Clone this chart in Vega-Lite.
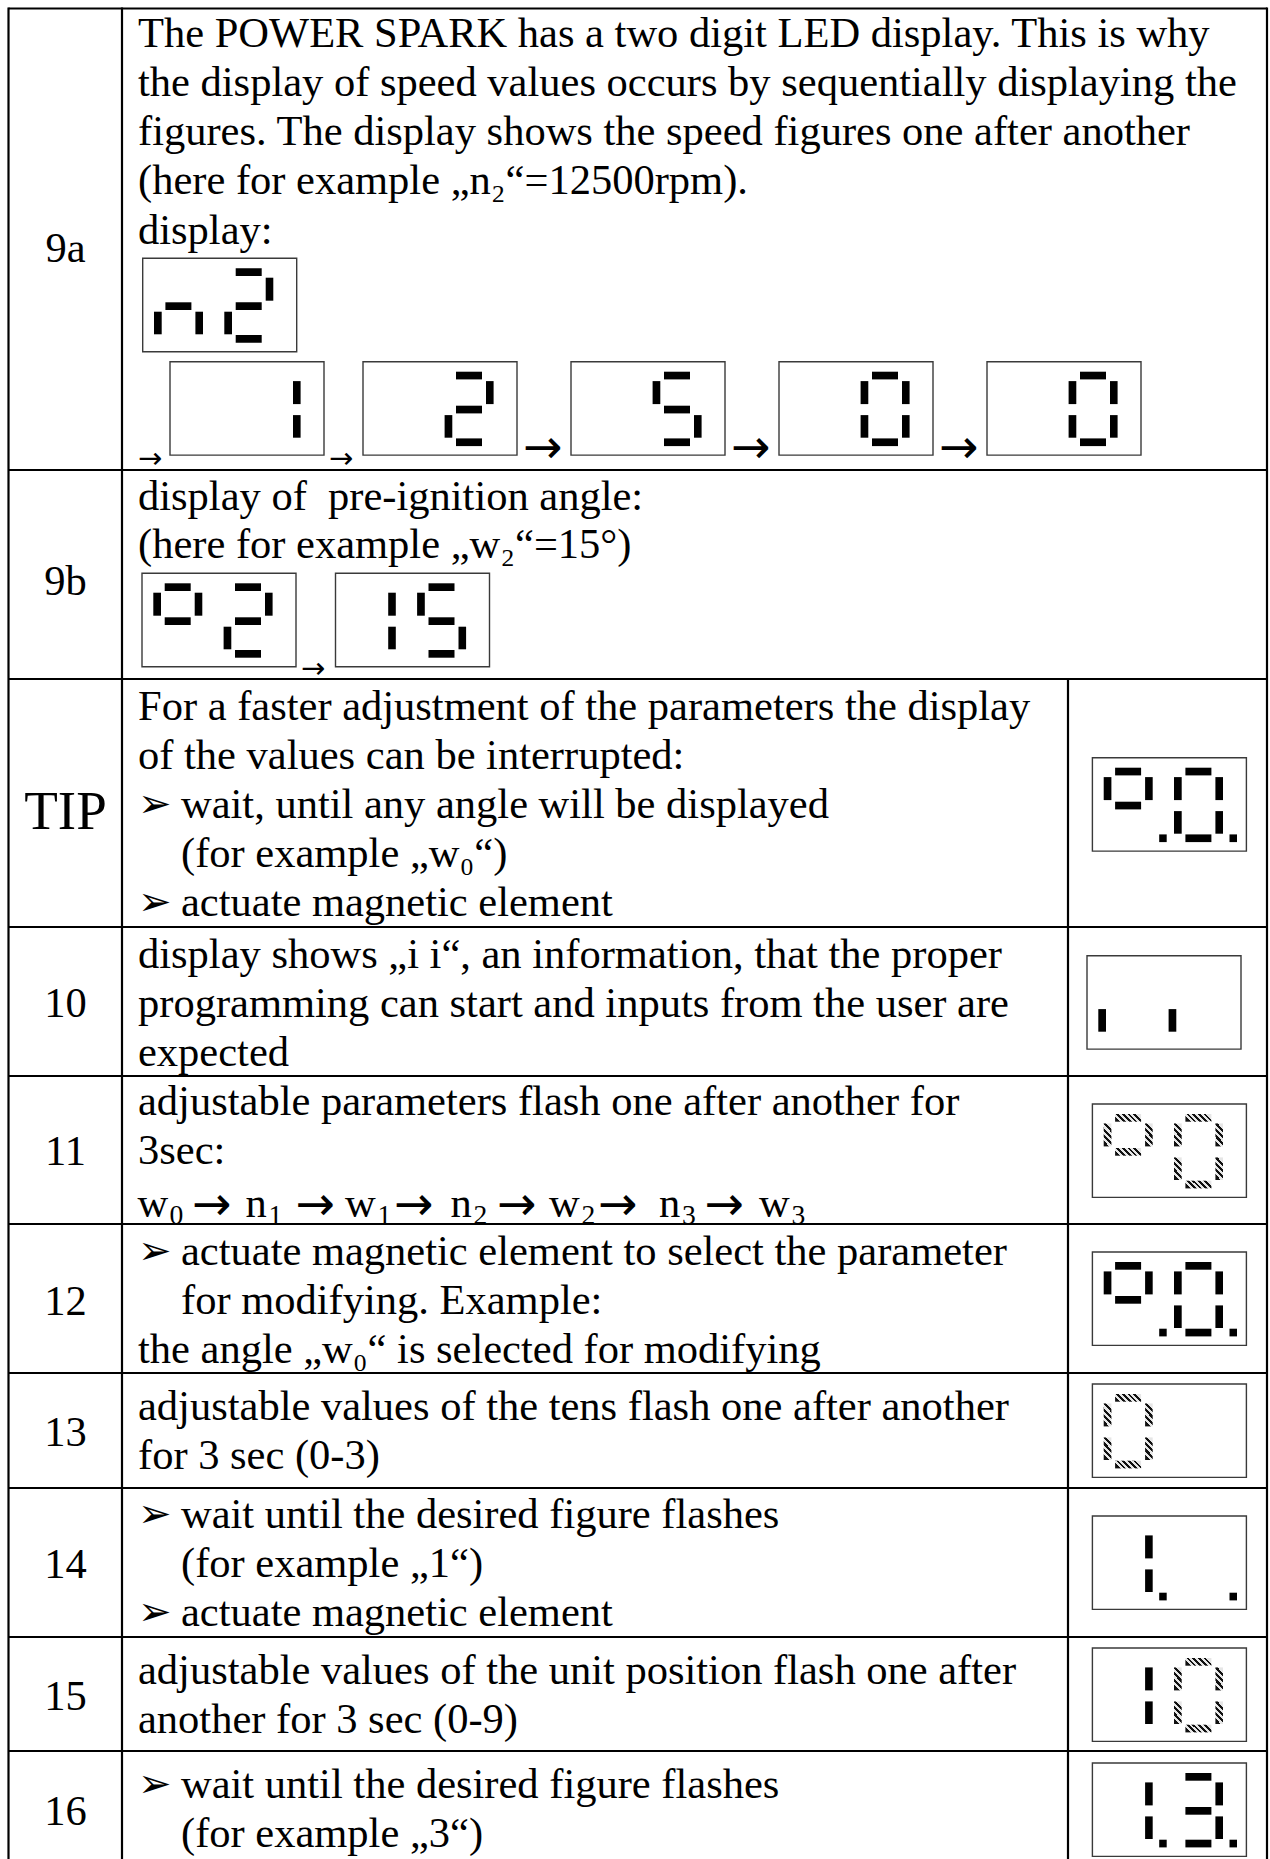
{
  "$schema": "https://vega.github.io/schema/vega-lite/v6.json",
  "width": 1270,
  "height": 1859,
  "autosize": {"type": "none"},
  "padding": 0,
  "background": "white",
  "config": {"view": {"stroke": null}},
  "datasets": {
    "rules": [
      {"x": 8.5, "x2": 1267, "y": 8.5, "y2": 8.5},
      {"x": 8.5, "x2": 1267, "y": 470, "y2": 470},
      {"x": 8.5, "x2": 1267, "y": 679, "y2": 679},
      {"x": 8.5, "x2": 1267, "y": 927, "y2": 927},
      {"x": 8.5, "x2": 1267, "y": 1076, "y2": 1076},
      {"x": 8.5, "x2": 1267, "y": 1224, "y2": 1224},
      {"x": 8.5, "x2": 1267, "y": 1373, "y2": 1373},
      {"x": 8.5, "x2": 1267, "y": 1488, "y2": 1488},
      {"x": 8.5, "x2": 1267, "y": 1637, "y2": 1637},
      {"x": 8.5, "x2": 1267, "y": 1751, "y2": 1751},
      {"x": 8.5, "x2": 8.5, "y": 7.5, "y2": 1859},
      {"x": 122, "x2": 122, "y": 7.5, "y2": 1859},
      {"x": 1267, "x2": 1267, "y": 7.5, "y2": 1859},
      {"x": 1068, "x2": 1068, "y": 679, "y2": 1859}
    ],
    "boxes": [
      {"x": 142.7, "x2": 296.7, "y": 258.3, "y2": 351.7},
      {"x": 170, "x2": 324, "y": 361.7, "y2": 455.1},
      {"x": 363, "x2": 517, "y": 361.7, "y2": 455.1},
      {"x": 571, "x2": 725, "y": 361.7, "y2": 455.1},
      {"x": 779, "x2": 933, "y": 361.7, "y2": 455.1},
      {"x": 987, "x2": 1141, "y": 361.7, "y2": 455.1},
      {"x": 142, "x2": 296, "y": 573.3, "y2": 666.7},
      {"x": 335.5, "x2": 489.5, "y": 573.3, "y2": 666.7},
      {"x": 1092.4, "x2": 1246.4, "y": 757.7, "y2": 851.1},
      {"x": 1087, "x2": 1241, "y": 955.7, "y2": 1049.1},
      {"x": 1092.4, "x2": 1246.4, "y": 1104, "y2": 1197.4},
      {"x": 1092.4, "x2": 1246.4, "y": 1252, "y2": 1345.4},
      {"x": 1092.4, "x2": 1246.4, "y": 1384, "y2": 1477.4},
      {"x": 1092.4, "x2": 1246.4, "y": 1516, "y2": 1609.4},
      {"x": 1092.4, "x2": 1246.4, "y": 1648, "y2": 1741.4},
      {"x": 1092.4, "x2": 1246.4, "y": 1763, "y2": 1856.4}
    ],
    "segs": [
      {"x": 165.4, "x2": 191.4, "y": 302.3, "y2": 310.0, "o": "h", "s": "solid"},
      {"x": 195.4, "x2": 203.0, "y": 311.7, "y2": 334.3, "o": "v", "s": "solid"},
      {"x": 154.0, "x2": 161.7, "y": 311.7, "y2": 334.3, "o": "v", "s": "solid"},
      {"x": 235.7, "x2": 261.7, "y": 268.3, "y2": 276.0, "o": "h", "s": "solid"},
      {"x": 265.7, "x2": 273.3, "y": 277.7, "y2": 300.7, "o": "v", "s": "solid"},
      {"x": 235.7, "x2": 261.7, "y": 302.3, "y2": 310.0, "o": "h", "s": "solid"},
      {"x": 224.3, "x2": 232.0, "y": 311.7, "y2": 334.3, "o": "v", "s": "solid"},
      {"x": 235.7, "x2": 261.7, "y": 335.0, "y2": 342.7, "o": "h", "s": "solid"},

      {"x": 293.0, "x2": 300.6, "y": 381.1, "y2": 404.1, "o": "v", "s": "solid"},
      {"x": 293.0, "x2": 300.6, "y": 415.1, "y2": 437.7, "o": "v", "s": "solid"},

      {"x": 456.0, "x2": 482.0, "y": 371.7, "y2": 379.4, "o": "h", "s": "solid"},
      {"x": 486.0, "x2": 493.6, "y": 381.1, "y2": 404.1, "o": "v", "s": "solid"},
      {"x": 456.0, "x2": 482.0, "y": 405.7, "y2": 413.4, "o": "h", "s": "solid"},
      {"x": 444.6, "x2": 452.3, "y": 415.1, "y2": 437.7, "o": "v", "s": "solid"},
      {"x": 456.0, "x2": 482.0, "y": 438.4, "y2": 446.1, "o": "h", "s": "solid"},

      {"x": 664.0, "x2": 690.0, "y": 371.7, "y2": 379.4, "o": "h", "s": "solid"},
      {"x": 652.6, "x2": 660.3, "y": 381.1, "y2": 404.1, "o": "v", "s": "solid"},
      {"x": 664.0, "x2": 690.0, "y": 405.7, "y2": 413.4, "o": "h", "s": "solid"},
      {"x": 694.0, "x2": 701.6, "y": 415.1, "y2": 437.7, "o": "v", "s": "solid"},
      {"x": 664.0, "x2": 690.0, "y": 438.4, "y2": 446.1, "o": "h", "s": "solid"},

      {"x": 872.0, "x2": 898.0, "y": 371.7, "y2": 379.4, "o": "h", "s": "solid"},
      {"x": 902.0, "x2": 909.6, "y": 381.1, "y2": 404.1, "o": "v", "s": "solid"},
      {"x": 902.0, "x2": 909.6, "y": 415.1, "y2": 437.7, "o": "v", "s": "solid"},
      {"x": 872.0, "x2": 898.0, "y": 438.4, "y2": 446.1, "o": "h", "s": "solid"},
      {"x": 860.6, "x2": 868.3, "y": 415.1, "y2": 437.7, "o": "v", "s": "solid"},
      {"x": 860.6, "x2": 868.3, "y": 381.1, "y2": 404.1, "o": "v", "s": "solid"},

      {"x": 1080.0, "x2": 1106.0, "y": 371.7, "y2": 379.4, "o": "h", "s": "solid"},
      {"x": 1110.0, "x2": 1117.6, "y": 381.1, "y2": 404.1, "o": "v", "s": "solid"},
      {"x": 1110.0, "x2": 1117.6, "y": 415.1, "y2": 437.7, "o": "v", "s": "solid"},
      {"x": 1080.0, "x2": 1106.0, "y": 438.4, "y2": 446.1, "o": "h", "s": "solid"},
      {"x": 1068.6, "x2": 1076.3, "y": 415.1, "y2": 437.7, "o": "v", "s": "solid"},
      {"x": 1068.6, "x2": 1076.3, "y": 381.1, "y2": 404.1, "o": "v", "s": "solid"},

      {"x": 164.7, "x2": 190.7, "y": 583.3, "y2": 591.0, "o": "h", "s": "solid"},
      {"x": 194.7, "x2": 202.3, "y": 592.7, "y2": 615.7, "o": "v", "s": "solid"},
      {"x": 153.3, "x2": 161.0, "y": 592.7, "y2": 615.7, "o": "v", "s": "solid"},
      {"x": 164.7, "x2": 190.7, "y": 617.3, "y2": 625.0, "o": "h", "s": "solid"},
      {"x": 235.0, "x2": 261.0, "y": 583.3, "y2": 591.0, "o": "h", "s": "solid"},
      {"x": 265.0, "x2": 272.6, "y": 592.7, "y2": 615.7, "o": "v", "s": "solid"},
      {"x": 235.0, "x2": 261.0, "y": 617.3, "y2": 625.0, "o": "h", "s": "solid"},
      {"x": 223.6, "x2": 231.3, "y": 626.7, "y2": 649.3, "o": "v", "s": "solid"},
      {"x": 235.0, "x2": 261.0, "y": 650.0, "y2": 657.7, "o": "h", "s": "solid"},

      {"x": 388.2, "x2": 395.8, "y": 592.7, "y2": 615.7, "o": "v", "s": "solid"},
      {"x": 388.2, "x2": 395.8, "y": 626.7, "y2": 649.3, "o": "v", "s": "solid"},
      {"x": 428.5, "x2": 454.5, "y": 583.3, "y2": 591.0, "o": "h", "s": "solid"},
      {"x": 417.1, "x2": 424.8, "y": 592.7, "y2": 615.7, "o": "v", "s": "solid"},
      {"x": 428.5, "x2": 454.5, "y": 617.3, "y2": 625.0, "o": "h", "s": "solid"},
      {"x": 458.5, "x2": 466.1, "y": 626.7, "y2": 649.3, "o": "v", "s": "solid"},
      {"x": 428.5, "x2": 454.5, "y": 650.0, "y2": 657.7, "o": "h", "s": "solid"},

      {"x": 1115.1, "x2": 1141.1, "y": 767.7, "y2": 775.4, "o": "h", "s": "solid"},
      {"x": 1145.1, "x2": 1152.7, "y": 777.1, "y2": 800.1, "o": "v", "s": "solid"},
      {"x": 1103.7, "x2": 1111.4, "y": 777.1, "y2": 800.1, "o": "v", "s": "solid"},
      {"x": 1115.1, "x2": 1141.1, "y": 801.7, "y2": 809.4, "o": "h", "s": "solid"},
      {"x": 1159.2, "x2": 1166.7, "y": 834.4, "y2": 842.1, "o": "h", "s": "solid"},
      {"x": 1185.4, "x2": 1211.4, "y": 767.7, "y2": 775.4, "o": "h", "s": "solid"},
      {"x": 1215.4, "x2": 1223.0, "y": 777.1, "y2": 800.1, "o": "v", "s": "solid"},
      {"x": 1215.4, "x2": 1223.0, "y": 811.1, "y2": 833.7, "o": "v", "s": "solid"},
      {"x": 1185.4, "x2": 1211.4, "y": 834.4, "y2": 842.1, "o": "h", "s": "solid"},
      {"x": 1174.0, "x2": 1181.7, "y": 811.1, "y2": 833.7, "o": "v", "s": "solid"},
      {"x": 1174.0, "x2": 1181.7, "y": 777.1, "y2": 800.1, "o": "v", "s": "solid"},
      {"x": 1229.5, "x2": 1237.0, "y": 834.4, "y2": 842.1, "o": "h", "s": "solid"},

      {"x": 1098.3, "x2": 1106.0, "y": 1009.1, "y2": 1031.7, "o": "v", "s": "solid"},
      {"x": 1168.6, "x2": 1176.3, "y": 1009.1, "y2": 1031.7, "o": "v", "s": "solid"},

      {"x": 1115.1, "x2": 1141.1, "y": 1114.0, "y2": 1121.7, "o": "h", "s": "hatch"},
      {"x": 1145.1, "x2": 1152.7, "y": 1123.4, "y2": 1146.4, "o": "v", "s": "hatch"},
      {"x": 1103.7, "x2": 1111.4, "y": 1123.4, "y2": 1146.4, "o": "v", "s": "hatch"},
      {"x": 1115.1, "x2": 1141.1, "y": 1148.0, "y2": 1155.7, "o": "h", "s": "hatch"},
      {"x": 1185.4, "x2": 1211.4, "y": 1114.0, "y2": 1121.7, "o": "h", "s": "hatch"},
      {"x": 1215.4, "x2": 1223.0, "y": 1123.4, "y2": 1146.4, "o": "v", "s": "hatch"},
      {"x": 1215.4, "x2": 1223.0, "y": 1157.4, "y2": 1180.0, "o": "v", "s": "hatch"},
      {"x": 1185.4, "x2": 1211.4, "y": 1180.7, "y2": 1188.4, "o": "h", "s": "hatch"},
      {"x": 1174.0, "x2": 1181.7, "y": 1157.4, "y2": 1180.0, "o": "v", "s": "hatch"},
      {"x": 1174.0, "x2": 1181.7, "y": 1123.4, "y2": 1146.4, "o": "v", "s": "hatch"},

      {"x": 1115.1, "x2": 1141.1, "y": 1262.0, "y2": 1269.7, "o": "h", "s": "solid"},
      {"x": 1145.1, "x2": 1152.7, "y": 1271.4, "y2": 1294.4, "o": "v", "s": "solid"},
      {"x": 1103.7, "x2": 1111.4, "y": 1271.4, "y2": 1294.4, "o": "v", "s": "solid"},
      {"x": 1115.1, "x2": 1141.1, "y": 1296.0, "y2": 1303.7, "o": "h", "s": "solid"},
      {"x": 1159.2, "x2": 1166.7, "y": 1328.7, "y2": 1336.4, "o": "h", "s": "solid"},
      {"x": 1185.4, "x2": 1211.4, "y": 1262.0, "y2": 1269.7, "o": "h", "s": "solid"},
      {"x": 1215.4, "x2": 1223.0, "y": 1271.4, "y2": 1294.4, "o": "v", "s": "solid"},
      {"x": 1215.4, "x2": 1223.0, "y": 1305.4, "y2": 1328.0, "o": "v", "s": "solid"},
      {"x": 1185.4, "x2": 1211.4, "y": 1328.7, "y2": 1336.4, "o": "h", "s": "solid"},
      {"x": 1174.0, "x2": 1181.7, "y": 1305.4, "y2": 1328.0, "o": "v", "s": "solid"},
      {"x": 1174.0, "x2": 1181.7, "y": 1271.4, "y2": 1294.4, "o": "v", "s": "solid"},
      {"x": 1229.5, "x2": 1237.0, "y": 1328.7, "y2": 1336.4, "o": "h", "s": "solid"},

      {"x": 1115.1, "x2": 1141.1, "y": 1394.0, "y2": 1401.7, "o": "h", "s": "hatch"},
      {"x": 1145.1, "x2": 1152.7, "y": 1403.4, "y2": 1426.4, "o": "v", "s": "hatch"},
      {"x": 1145.1, "x2": 1152.7, "y": 1437.4, "y2": 1460.0, "o": "v", "s": "hatch"},
      {"x": 1115.1, "x2": 1141.1, "y": 1460.7, "y2": 1468.4, "o": "h", "s": "hatch"},
      {"x": 1103.7, "x2": 1111.4, "y": 1437.4, "y2": 1460.0, "o": "v", "s": "hatch"},
      {"x": 1103.7, "x2": 1111.4, "y": 1403.4, "y2": 1426.4, "o": "v", "s": "hatch"},

      {"x": 1145.1, "x2": 1152.7, "y": 1535.4, "y2": 1558.4, "o": "v", "s": "solid"},
      {"x": 1145.1, "x2": 1152.7, "y": 1569.4, "y2": 1592.0, "o": "v", "s": "solid"},
      {"x": 1159.2, "x2": 1166.7, "y": 1592.7, "y2": 1600.4, "o": "h", "s": "solid"},
      {"x": 1229.5, "x2": 1237.0, "y": 1592.7, "y2": 1600.4, "o": "h", "s": "solid"},

      {"x": 1145.1, "x2": 1152.7, "y": 1667.4, "y2": 1690.4, "o": "v", "s": "solid"},
      {"x": 1145.1, "x2": 1152.7, "y": 1701.4, "y2": 1724.0, "o": "v", "s": "solid"},
      {"x": 1185.4, "x2": 1211.4, "y": 1658.0, "y2": 1665.7, "o": "h", "s": "hatch"},
      {"x": 1215.4, "x2": 1223.0, "y": 1667.4, "y2": 1690.4, "o": "v", "s": "hatch"},
      {"x": 1215.4, "x2": 1223.0, "y": 1701.4, "y2": 1724.0, "o": "v", "s": "hatch"},
      {"x": 1185.4, "x2": 1211.4, "y": 1724.7, "y2": 1732.4, "o": "h", "s": "hatch"},
      {"x": 1174.0, "x2": 1181.7, "y": 1701.4, "y2": 1724.0, "o": "v", "s": "hatch"},
      {"x": 1174.0, "x2": 1181.7, "y": 1667.4, "y2": 1690.4, "o": "v", "s": "hatch"},

      {"x": 1145.1, "x2": 1152.7, "y": 1782.4, "y2": 1805.4, "o": "v", "s": "solid"},
      {"x": 1145.1, "x2": 1152.7, "y": 1816.4, "y2": 1839.0, "o": "v", "s": "solid"},
      {"x": 1159.2, "x2": 1166.7, "y": 1839.7, "y2": 1847.4, "o": "h", "s": "solid"},
      {"x": 1185.4, "x2": 1211.4, "y": 1773.0, "y2": 1780.7, "o": "h", "s": "solid"},
      {"x": 1215.4, "x2": 1223.0, "y": 1782.4, "y2": 1805.4, "o": "v", "s": "solid"},
      {"x": 1185.4, "x2": 1211.4, "y": 1807.0, "y2": 1814.7, "o": "h", "s": "solid"},
      {"x": 1215.4, "x2": 1223.0, "y": 1816.4, "y2": 1839.0, "o": "v", "s": "solid"},
      {"x": 1185.4, "x2": 1211.4, "y": 1839.7, "y2": 1847.4, "o": "h", "s": "solid"},
      {"x": 1229.5, "x2": 1237.0, "y": 1839.7, "y2": 1847.4, "o": "h", "s": "solid"}
    ],
    "body": [
      {"x": 138, "y": 47, "t": "The POWER SPARK has a two digit LED display. This is why"},
      {"x": 138, "y": 96, "t": "the display of speed values occurs by sequentially displaying the"},
      {"x": 138, "y": 145, "t": "figures. The display shows the speed figures one after another"},
      {"x": 138, "y": 194, "t": "(here for example „n₂“=12500rpm)."},
      {"x": 138, "y": 244, "t": "display:"},
      {"x": 138, "y": 510, "t": "display of \u00a0pre-ignition angle:"},
      {"x": 138, "y": 558, "t": "(here for example „w₂“=15°)"},
      {"x": 138, "y": 720, "t": "For a faster adjustment of the parameters the display"},
      {"x": 138, "y": 769, "t": "of the values can be interrupted:"},
      {"x": 181, "y": 818, "t": "wait, until any angle will be displayed"},
      {"x": 181, "y": 867, "t": "(for example „w₀“)"},
      {"x": 181, "y": 916, "t": "actuate magnetic element"},
      {"x": 138, "y": 968, "t": "display shows „i i“, an information, that the proper"},
      {"x": 138, "y": 1017, "t": "programming can start and inputs from the user are"},
      {"x": 138, "y": 1066, "t": "expected"},
      {"x": 138, "y": 1115, "t": "adjustable parameters flash one after another for"},
      {"x": 138, "y": 1164, "t": "3sec:"},
      {"x": 181, "y": 1265, "t": "actuate magnetic element to select the parameter"},
      {"x": 181, "y": 1314, "t": "for modifying. Example:"},
      {"x": 138, "y": 1363, "t": "the angle „w₀“ is selected for modifying"},
      {"x": 138, "y": 1420, "t": "adjustable values of the tens flash one after another"},
      {"x": 138, "y": 1469, "t": "for 3 sec (0-3)"},
      {"x": 181, "y": 1528, "t": "wait until the desired figure flashes"},
      {"x": 181, "y": 1577, "t": "(for example „1“)"},
      {"x": 181, "y": 1626, "t": "actuate magnetic element"},
      {"x": 138, "y": 1684, "t": "adjustable values of the unit position flash one after"},
      {"x": 138, "y": 1733, "t": "another for 3 sec (0-9)"},
      {"x": 181, "y": 1798, "t": "wait until the desired figure flashes"},
      {"x": 181, "y": 1847, "t": "(for example „3“)"},
      {"x": 137.5, "y": 1217, "t": "w"},
      {"x": 245.5, "y": 1217, "t": "n"},
      {"x": 345, "y": 1217, "t": "w"},
      {"x": 450.5, "y": 1217, "t": "n"},
      {"x": 549, "y": 1217, "t": "w"},
      {"x": 659, "y": 1217, "t": "n"},
      {"x": 759, "y": 1217, "t": "w"}
    ],
    "subs": [
      {"x": 169.5, "y": 1224, "t": "0"},
      {"x": 268.5, "y": 1224, "t": "1"},
      {"x": 377.5, "y": 1224, "t": "1"},
      {"x": 473.5, "y": 1224, "t": "2"},
      {"x": 581.5, "y": 1224, "t": "2"},
      {"x": 682, "y": 1224, "t": "3"},
      {"x": 791.5, "y": 1224, "t": "3"}
    ],
    "bullets": [
      {"x": 138, "y": 817, "t": "➢"},
      {"x": 138, "y": 915, "t": "➢"},
      {"x": 138, "y": 1264, "t": "➢"},
      {"x": 138, "y": 1527, "t": "➢"},
      {"x": 138, "y": 1625, "t": "➢"},
      {"x": 138, "y": 1797, "t": "➢"}
    ],
    "labels": [
      {"x": 65.5, "y": 262, "t": "9a"},
      {"x": 65.5, "y": 595, "t": "9b"},
      {"x": 65.5, "y": 1017, "t": "10"},
      {"x": 65.5, "y": 1165, "t": "11"},
      {"x": 65.5, "y": 1315, "t": "12"},
      {"x": 65.5, "y": 1446, "t": "13"},
      {"x": 65.5, "y": 1578, "t": "14"},
      {"x": 65.5, "y": 1710, "t": "15"},
      {"x": 65.5, "y": 1825, "t": "16"}
    ],
    "tip": [
      {"x": 65.5, "y": 829, "t": "TIP"}
    ],
    "arrowsS": [
      {"x": 138, "y": 468, "t": "→"},
      {"x": 329, "y": 468, "t": "→"},
      {"x": 301, "y": 678, "t": "→"}
    ],
    "arrowsL": [
      {"x": 523, "y": 463, "t": "→"},
      {"x": 731, "y": 463, "t": "→"},
      {"x": 939, "y": 463, "t": "→"},
      {"x": 192, "y": 1220, "t": "→"},
      {"x": 295.5, "y": 1220, "t": "→"},
      {"x": 394, "y": 1220, "t": "→"},
      {"x": 497, "y": 1220, "t": "→"},
      {"x": 598, "y": 1220, "t": "→"},
      {"x": 704.5, "y": 1220, "t": "→"}
    ]
  },
  "encoding": {
    "x": {"field": "x", "type": "quantitative", "scale": {"domain": [0, 1270], "nice": false, "zero": false}, "axis": null},
    "y": {"field": "y", "type": "quantitative", "scale": {"domain": [0, 1859], "nice": false, "zero": false, "reverse": true}, "axis": null}
  },
  "layer": [
    {
      "data": {"name": "rules"},
      "mark": {"type": "rule", "color": "black", "strokeWidth": 2.2},
      "encoding": {"x2": {"field": "x2"}, "y2": {"field": "y2"}}
    },
    {
      "data": {"name": "boxes"},
      "mark": {"type": "rect", "fill": "white", "stroke": "#3a3a3a", "strokeWidth": 1.4},
      "encoding": {"x2": {"field": "x2"}, "y2": {"field": "y2"}}
    },
    {
      "data": {"name": "segs"},
      "transform": [{"filter": "datum.s === 'solid'"}],
      "mark": {"type": "rect", "fill": "black", "stroke": null},
      "encoding": {"x2": {"field": "x2"}, "y2": {"field": "y2"}}
    },
    {
      "data": {"name": "segs"},
      "transform": [{"filter": "datum.s === 'hatch' && datum.o === 'h'"}],
      "mark": {
        "type": "rect",
        "stroke": null,
        "fill": {
          "gradient": "linear",
          "x1": 0, "y1": 0.65, "x2": 1, "y2": 0.35,
          "stops": [
            {"offset": 0, "color": "#111111"}, {"offset": 0.1, "color": "#111111"},
            {"offset": 0.1, "color": "#e6e6e6"}, {"offset": 0.2, "color": "#e6e6e6"},
            {"offset": 0.2, "color": "#111111"}, {"offset": 0.3, "color": "#111111"},
            {"offset": 0.3, "color": "#e6e6e6"}, {"offset": 0.4, "color": "#e6e6e6"},
            {"offset": 0.4, "color": "#111111"}, {"offset": 0.5, "color": "#111111"},
            {"offset": 0.5, "color": "#e6e6e6"}, {"offset": 0.6, "color": "#e6e6e6"},
            {"offset": 0.6, "color": "#111111"}, {"offset": 0.7, "color": "#111111"},
            {"offset": 0.7, "color": "#e6e6e6"}, {"offset": 0.8, "color": "#e6e6e6"},
            {"offset": 0.8, "color": "#111111"}, {"offset": 0.9, "color": "#111111"},
            {"offset": 0.9, "color": "#e6e6e6"}, {"offset": 1, "color": "#e6e6e6"}
          ]
        }
      },
      "encoding": {"x2": {"field": "x2"}, "y2": {"field": "y2"}}
    },
    {
      "data": {"name": "segs"},
      "transform": [{"filter": "datum.s === 'hatch' && datum.o === 'v'"}],
      "mark": {
        "type": "rect",
        "stroke": null,
        "fill": {
          "gradient": "linear",
          "x1": 0.326, "y1": 1, "x2": 0.674, "y2": 0,
          "stops": [
            {"offset": 0, "color": "#111111"}, {"offset": 0.125, "color": "#111111"},
            {"offset": 0.125, "color": "#e6e6e6"}, {"offset": 0.25, "color": "#e6e6e6"},
            {"offset": 0.25, "color": "#111111"}, {"offset": 0.375, "color": "#111111"},
            {"offset": 0.375, "color": "#e6e6e6"}, {"offset": 0.5, "color": "#e6e6e6"},
            {"offset": 0.5, "color": "#111111"}, {"offset": 0.625, "color": "#111111"},
            {"offset": 0.625, "color": "#e6e6e6"}, {"offset": 0.75, "color": "#e6e6e6"},
            {"offset": 0.75, "color": "#111111"}, {"offset": 0.875, "color": "#111111"},
            {"offset": 0.875, "color": "#e6e6e6"}, {"offset": 1, "color": "#e6e6e6"}
          ]
        }
      },
      "encoding": {"x2": {"field": "x2"}, "y2": {"field": "y2"}}
    },
    {
      "data": {"name": "body"},
      "mark": {"type": "text", "align": "left", "baseline": "alphabetic", "font": "Liberation Serif, DejaVu Serif", "fontSize": 42.5, "color": "black"},
      "encoding": {"text": {"field": "t"}}
    },
    {
      "data": {"name": "subs"},
      "mark": {"type": "text", "align": "left", "baseline": "alphabetic", "font": "Liberation Serif", "fontSize": 27.6, "color": "black"},
      "encoding": {"text": {"field": "t"}}
    },
    {
      "data": {"name": "bullets"},
      "mark": {"type": "text", "align": "left", "baseline": "alphabetic", "font": "DejaVu Sans", "fontSize": 40, "color": "black"},
      "encoding": {"text": {"field": "t"}}
    },
    {
      "data": {"name": "labels"},
      "mark": {"type": "text", "align": "center", "baseline": "alphabetic", "font": "Liberation Serif", "fontSize": 42.5, "color": "black"},
      "encoding": {"text": {"field": "t"}}
    },
    {
      "data": {"name": "tip"},
      "mark": {"type": "text", "align": "center", "baseline": "alphabetic", "font": "Liberation Serif", "fontSize": 55, "color": "black"},
      "encoding": {"text": {"field": "t"}}
    },
    {
      "data": {"name": "arrowsS"},
      "mark": {"type": "text", "align": "left", "baseline": "alphabetic", "font": "DejaVu Sans", "fontSize": 29, "color": "black"},
      "encoding": {"text": {"field": "t"}}
    },
    {
      "data": {"name": "arrowsL"},
      "mark": {"type": "text", "align": "left", "baseline": "alphabetic", "font": "DejaVu Sans", "fontSize": 47, "color": "black"},
      "encoding": {"text": {"field": "t"}}
    }
  ]
}
